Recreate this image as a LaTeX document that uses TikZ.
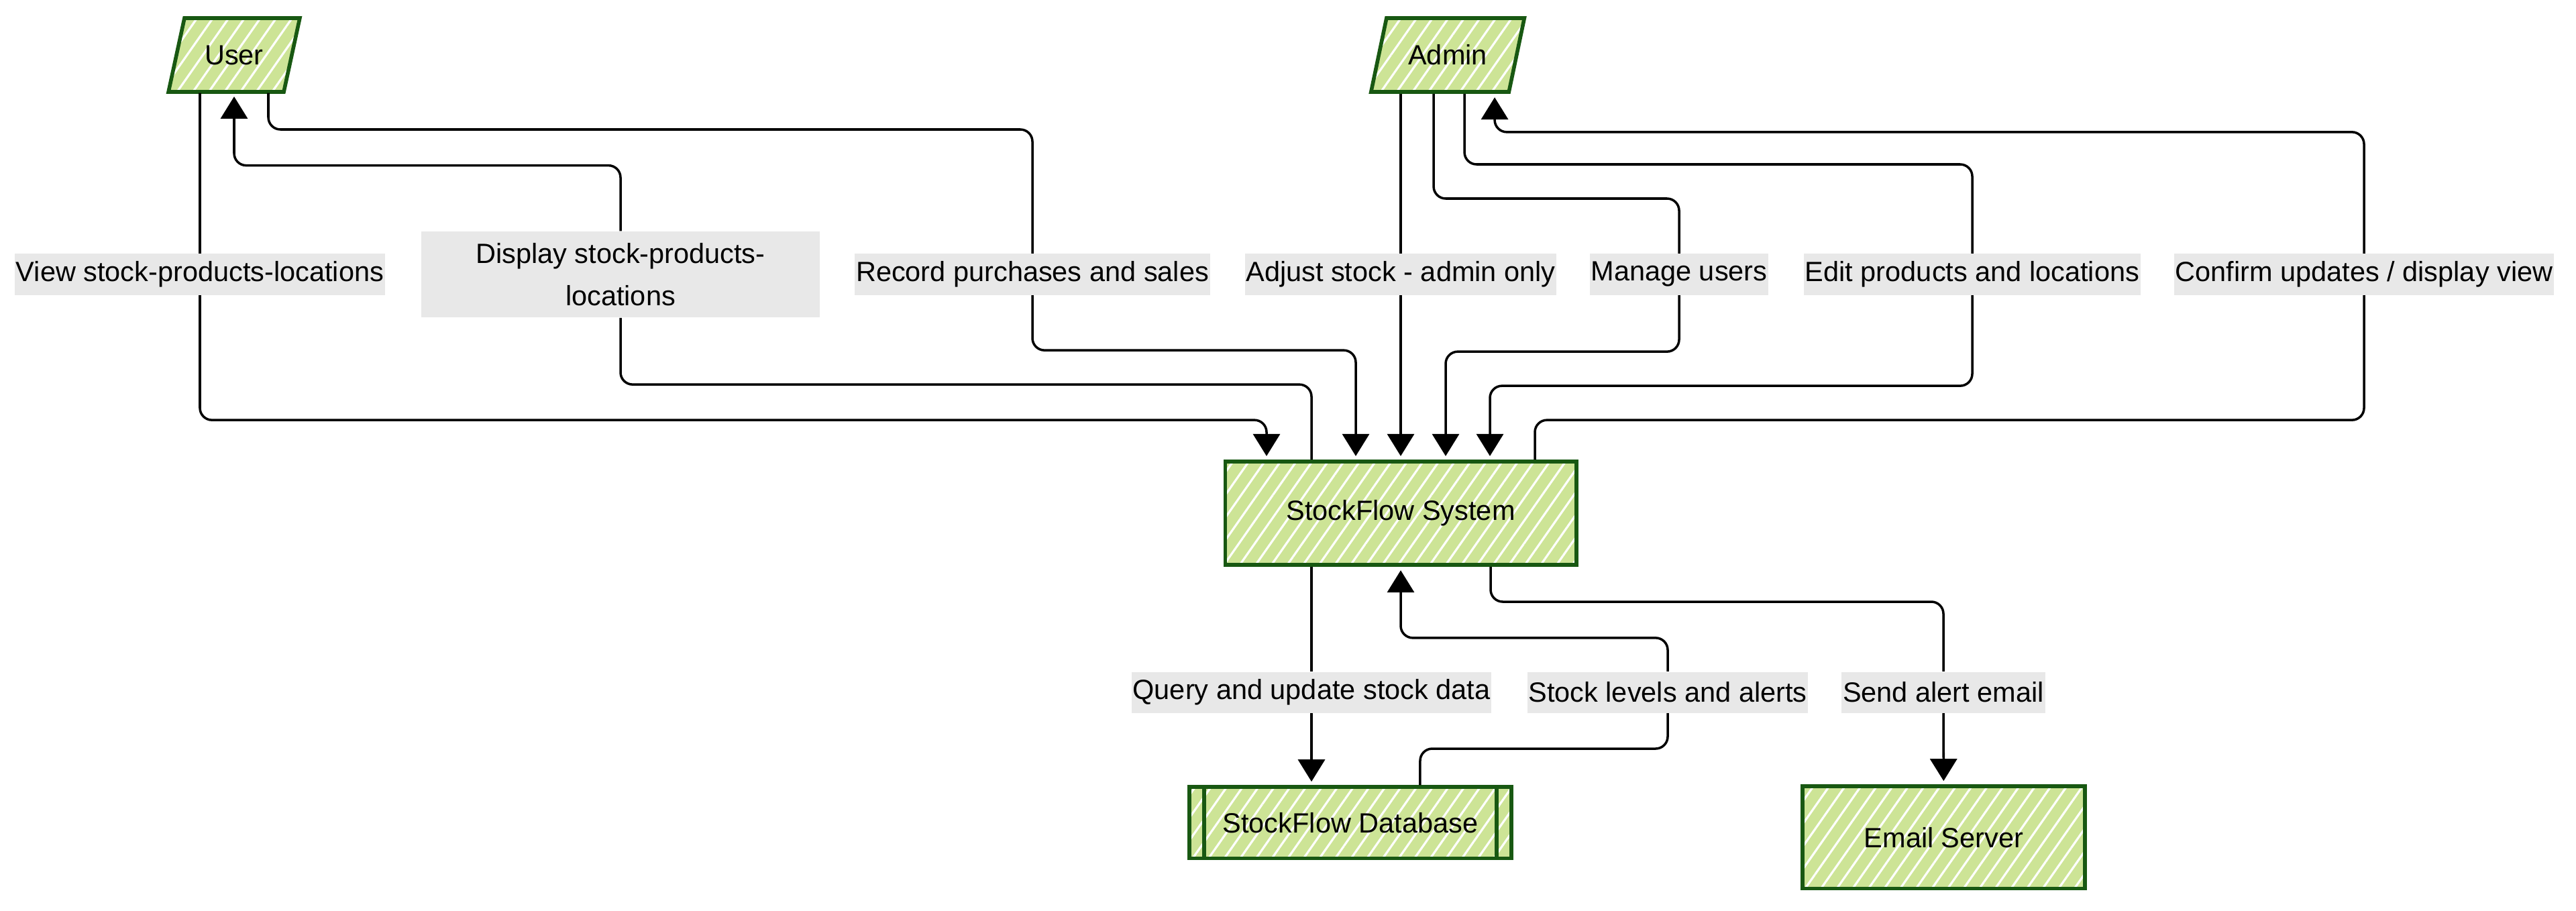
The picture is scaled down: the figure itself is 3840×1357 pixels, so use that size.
\documentclass[tikz,border=0pt]{standalone}
\usepackage{fontspec}
\setmainfont{Liberation Sans}
\usetikzlibrary{arrows.meta,shapes.geometric,patterns.meta,calc,positioning}
\definecolor{leafgreen}{RGB}{205,228,150}
\definecolor{darkleaf}{RGB}{24,88,18}
\definecolor{labelgray}{RGB}{232,232,232}

\begin{document}
\begin{tikzpicture}[x=0.01cm, y=-0.01cm, on grid, >={Triangle[length=0.33cm,width=0.4cm]},
    font=\fontsize{11.8}{14}\selectfont,
    hatched/.style={draw=darkleaf, line width=1.6pt, preaction={fill=leafgreen}, pattern={Lines[angle=55,distance=5.5pt,line width=0.9pt]}, pattern color=white},
    actor/.style={hatched, trapezium, trapezium left angle=64, trapezium right angle=116, trapezium stretches=true, minimum width=1.96cm, minimum height=1.1cm, inner sep=0pt},
    process/.style={hatched, rectangle, minimum width=5.23cm, minimum height=1.54cm},
    flowlabel/.style={fill=labelgray, inner xsep=0.5pt, inner ysep=0pt, minimum height=0.61cm},
    flow/.style={->, line width=1pt, rounded corners=0.18cm, shorten >=1.5pt}]
    \useasboundingbox (0,0) rectangle (3840,1357);

    % actors and system parts
    \node[actor]                          (user)  at (349,82)                         {User};
    \node[actor, minimum width=2.29cm]    (admin) [right=18.08cm of user]             {Admin};
    \node[process]                        (sys)   at (2088,765)                       {StockFlow System};
    \node[process, minimum width=4.8cm, minimum height=1.06cm] (db) [below left=4.61cm and 0.75cm of sys] {StockFlow Database};
    \node[process, minimum width=4.21cm, minimum height=1.52cm] (email) [below right=4.83cm and 8.09cm of sys] {Email Server};
    \draw[draw=darkleaf, line width=1.6pt] ([xshift=0.25cm]db.north west) -- ([xshift=0.25cm]db.south west)
                                          ([xshift=-0.25cm]db.north east) -- ([xshift=-0.25cm]db.south east);

    % flow labels
    \node[flowlabel]  (lblview)  at (298,409)  {View stock-products-locations};
    \node[flowlabel, minimum width=5.93cm, minimum height=1.28cm, align=center, font=\fontsize{11.8}{17.8}\selectfont]
                      (lbldisp)  at (925,409)  {Display stock-products-\\locations};
    \node[flowlabel]  (lblrec)   at (1539,409) {Record purchases and sales};
    \node[flowlabel]  (lbladj)   at (2088,409) {Adjust stock - admin only};
    \node[flowlabel]  (lblman)   at (2503,409) {Manage users};
    \node[flowlabel]  (lbledit)  at (2940,409) {Edit products and locations};
    \node[flowlabel]  (lblconf)  at (3524,409) {Confirm updates / display view};
    \node[flowlabel]  (lblquery) at (1955,1032) {Query and update stock data};
    \node[flowlabel]  (lblstock) at (2486,1032) {Stock levels and alerts};
    \node[flowlabel]  (lblsend)  at (2897,1032) {Send alert email};

    % user side
    \draw[flow] ($(user.center |- user.south)+(-51,0)$) -- (lblview) |- ($(sys.north)+(-200,-59)$) -- ($(sys.north)+(-200,0)$);
    \draw[flow] ($(sys.north)+(-133,0)$) -- ($(sys.north)+(-133,-112)$) -| (lbldisp) |- ($(user.center |- user.south)+(0,108)$) -- (user.center |- user.south);
    \draw[flow] ($(user.center |- user.south)+(51,0)$) |- ($(lblrec)+(0,-216)$) -- (lblrec) |- ($(sys.north)+(-67,-163)$) -- ($(sys.north)+(-67,0)$);

    % admin side
    \draw[flow] (admin.south -| sys.north) -- (lbladj) -- (sys.north);
    \draw[flow] ($(admin.center |- admin.south)+(-21,0)$) |- ($(lblman)+(0,-113)$) -- (lblman) |- ($(sys.north)+(67,-161)$) -- ($(sys.north)+(67,0)$);
    \draw[flow] ($(admin.center |- admin.south)+(25,0)$) |- ($(lbledit)+(0,-164)$) -- (lbledit) |- ($(sys.north)+(133,-110)$) -- ($(sys.north)+(133,0)$);
    \draw[flow] ($(sys.north)+(200,0)$) -- ($(sys.north)+(200,-59)$) -| (lblconf) |- ($(admin.center |- admin.south)+(70,57)$) -- ($(admin.center |- admin.south)+(70,0)$);

    % backend
    \draw[flow] ($(sys.south)+(-133,0)$) -- (lblquery) -- (db.north -| lblquery);
    \draw[flow] ($(db.north)+(104,0)$) |- ($(lblstock)+(0,84)$) -- (lblstock) |- ($(sys.south)+(0,106)$) -- (sys.south);
    \draw[flow] ($(sys.south)+(134,0)$) |- ($(lblsend)+(0,-135)$) -- (lblsend) -- (email);
\end{tikzpicture}
\end{document}
